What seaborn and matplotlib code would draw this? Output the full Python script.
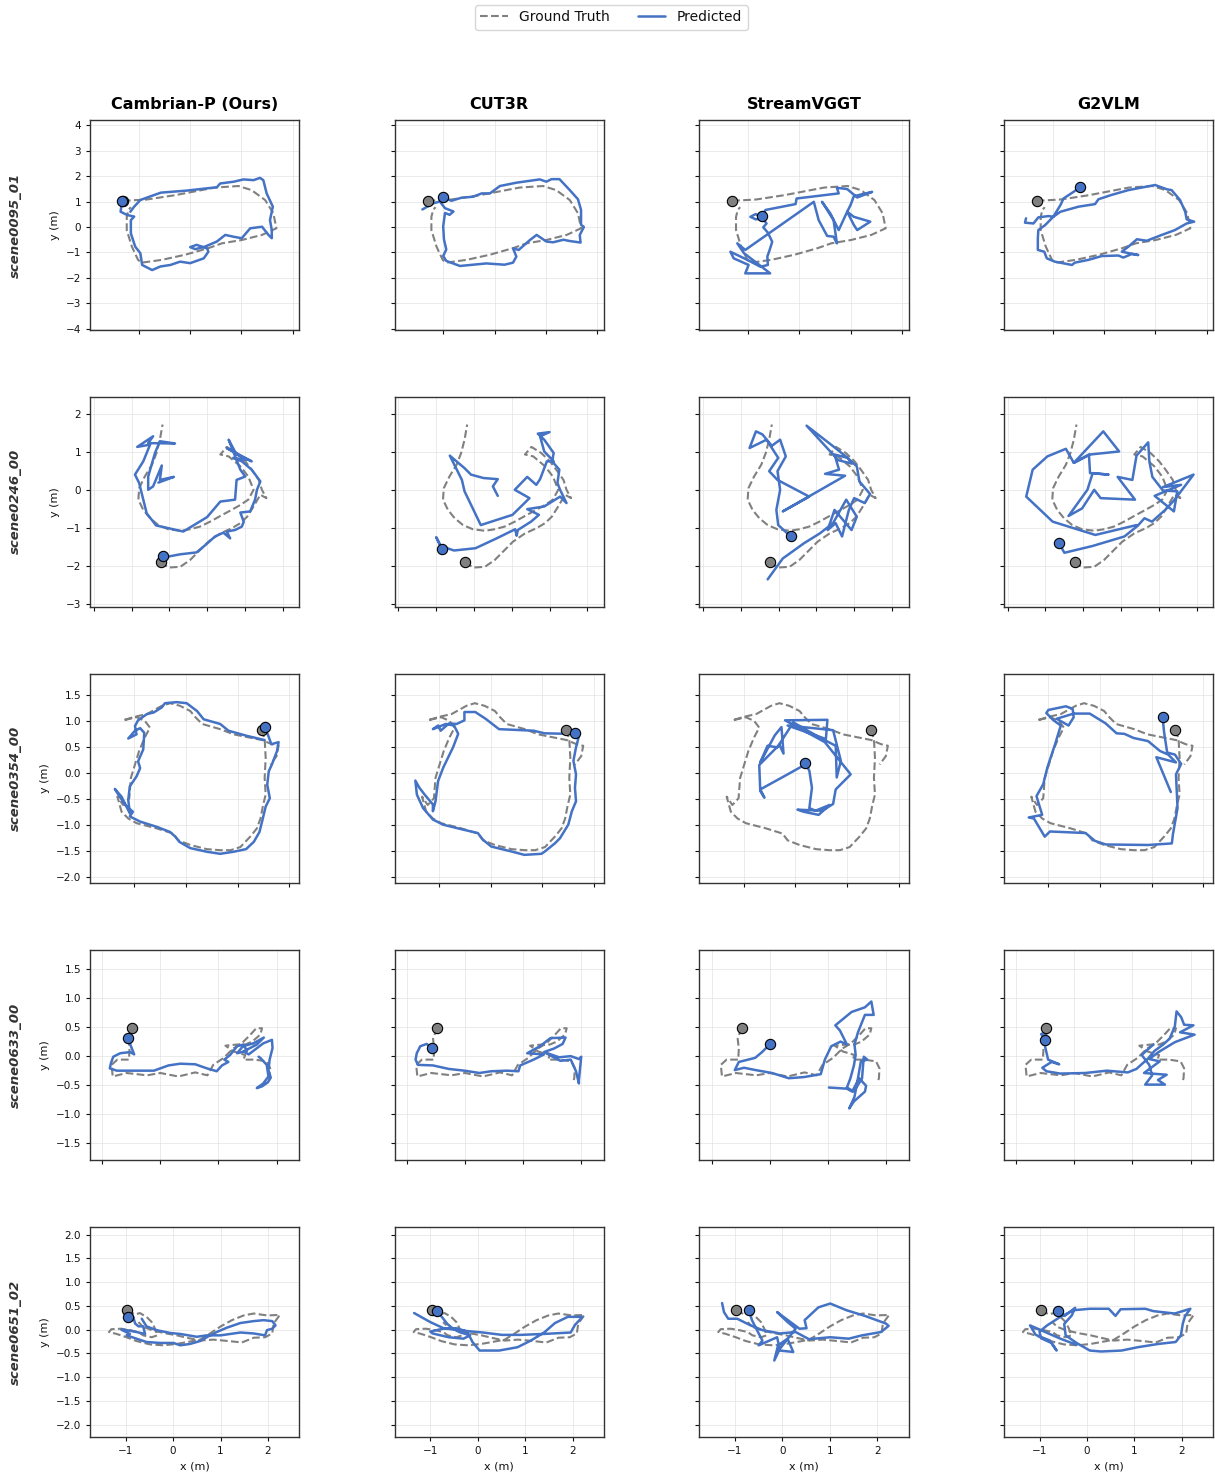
import matplotlib
matplotlib.use("Agg")
import matplotlib.pyplot as plt
import pandas as pd
import seaborn as sns
from matplotlib.lines import Line2D
from matplotlib.ticker import MultipleLocator

# ---------------------------------------------------------------- labels
methods = ["Cambrian-P (Ours)", "CUT3R", "StreamVGGT", "G2VLM"]
scenes = ["scene0095_01", "scene0246_00", "scene0354_00", "scene0633_00", "scene0651_02"]

# ---------------------------------------------------------------- scene0095_01
gt_0095_01 = [(-2.62, 1.03), (-1.69, 1.08), (-0.59, 1.25), (0.97, 1.55), (1.88, 1.61), (2.39, 1.45),
              (2.92, 1.06), (3.24, 0.54), (3.36, -0.05), (2.80, -0.31), (2.01, -0.51), (1.24, -0.64),
              (0.71, -0.83), (-0.20, -1.09), (-1.10, -1.29), (-1.89, -1.40), (-2.03, -1.29),
              (-2.27, -0.77), (-2.47, -0.12), (-2.47, 0.40), (-2.40, 0.67), (-2.31, 0.78)]
cambrian_0095_01 = [(-2.65, 1.02), (-2.71, 0.60), (-2.45, 0.47), (-2.18, 0.41), (-2.31, 0.27), (-2.31, -0.25),
                    (-2.14, -0.77), (-1.94, -1.03), (-1.87, -1.49), (-1.48, -1.69), (-1.16, -1.55),
                    (-0.77, -1.49), (-0.39, -1.36), (0.00, -1.42), (0.53, -1.23), (0.71, -0.97),
                    (0.66, -0.84), (0.25, -0.70), (0.00, -0.79), (0.20, -0.87), (0.58, -0.77),
                    (1.04, -0.57), (1.37, -0.31), (1.68, -0.38), (2.01, -0.44), (2.34, -0.05),
                    (2.80, 0.01), (3.05, -0.31), (3.18, -0.44), (3.18, -0.12), (3.11, 0.27),
                    (3.22, 0.80), (2.98, 1.32), (2.85, 1.84), (2.72, 1.93), (2.47, 1.84), (2.08, 1.87),
                    (1.70, 1.78), (1.17, 1.71), (1.04, 1.56), (0.66, 1.52), (-0.13, 1.43),
                    (-1.14, 1.35), (-1.67, 1.16), (-1.94, 1.06), (-2.18, 0.80), (-2.33, 0.60)]
cut3r_0095_01 = [(-2.01, 1.16), (-1.69, 1.03), (-1.30, 1.15), (-0.84, 1.19), (-0.51, 1.32), (-0.19, 1.32),
                 (0.20, 1.61), (0.84, 1.74), (1.75, 1.87), (2.01, 1.78), (2.21, 1.88), (2.52, 1.88),
                 (2.92, 1.45), (3.24, 1.09), (3.36, 0.67), (3.36, 0.09), (3.47, 0.00), (3.31, -0.31),
                 (3.34, -0.61), (2.92, -0.55), (2.67, -0.50), (2.27, -0.60), (2.01, -0.57),
                 (1.63, -0.31), (1.37, -0.51), (0.93, -0.90), (0.71, -0.84), (0.84, -1.16),
                 (0.71, -1.40), (0.38, -1.48), (-0.33, -1.43), (-1.36, -1.53), (-1.89, -1.33),
                 (-2.01, -1.14), (-1.89, -0.88), (-1.98, -0.49), (-2.01, 0.03), (-1.94, 0.55),
                 (-1.76, 0.48), (-1.61, 0.61), (-1.94, 0.74), (-2.14, 1.00), (-2.40, 0.93), (-2.82, 0.69)]
streamvggt_0095_01 = [(-1.45, 0.44), (-1.32, 0.67), (-0.15, 0.90), (-0.11, 1.12), (1.53, 1.32), (1.46, 1.54),
                      (1.86, 1.49), (2.25, 1.16), (2.83, 1.38), (2.12, 1.21), (1.99, 0.86), (1.86, 0.60),
                      (2.12, 0.40), (2.76, 0.21), (2.25, -0.12), (2.12, 0.08), (1.86, 0.60), (1.53, -0.12),
                      (1.20, 0.54), (0.88, 0.99), (1.33, 0.27), (1.46, -0.64), (1.33, -0.38), (1.08, -0.35),
                      (0.75, 0.27), (0.56, 0.99), (-2.11, -0.90), (-2.42, -0.64), (-2.16, -1.03),
                      (-1.65, -1.42), (-1.14, -1.82), (-2.11, -1.82), (-1.98, -1.49), (-2.56, -1.23),
                      (-2.69, -0.97), (-2.03, -1.29), (-1.52, -1.56), (-1.23, -1.49), (-1.25, -1.16),
                      (-1.16, -0.90), (-1.06, -0.58), (-1.23, -0.22), (-1.41, -0.01), (-1.28, 0.14),
                      (-1.45, 0.34), (-1.70, 0.30), (-1.91, 0.40), (-1.70, 0.51), (-1.58, 0.43)]
g2vlm_0095_01 = [(-0.94, 1.56), (-1.19, 1.38), (-1.58, 1.12), (-1.70, 0.86), (-1.98, 0.40), (-2.29, 0.08),
                 (-2.56, -0.12), (-2.58, -0.44), (-2.58, -0.90), (-2.33, -0.97), (-2.23, -1.23),
                 (-1.92, -1.36), (-1.25, -1.49), (-1.14, -1.40), (-0.61, -1.29), (-0.09, -1.14),
                 (0.56, -1.12), (0.75, -1.20), (1.08, -1.06), (1.33, -1.10), (0.69, -0.97),
                 (0.95, -0.77), (1.28, -0.48), (1.66, -0.54), (2.25, -0.31), (2.76, -0.12),
                 (3.22, 0.14), (3.51, 0.21), (3.22, 0.30), (3.16, 0.60), (2.96, 1.06), (2.63, 1.45),
                 (2.45, 1.48), (1.99, 1.65), (0.95, 1.45), (0.29, 1.26), (-0.22, 1.09), (-0.35, 0.90),
                 (-0.99, 0.80), (-1.70, 0.60), (-1.98, 0.40), (-2.16, 0.43), (-2.56, 0.38),
                 (-2.75, 0.14), (-3.08, 0.17), (-3.04, 0.34)]

# ---------------------------------------------------------------- scene0246_00
gt_0246_00 = [(-0.23, -1.90), (-0.03, -2.05), (0.29, -2.03), (0.55, -1.85), (0.77, -1.63), (1.03, -1.37),
              (1.35, -1.15), (1.66, -1.01), (1.88, -0.88), (2.06, -0.71), (2.23, -0.44), (2.41, -0.13),
              (2.57, -0.22), (2.45, 0.00), (2.37, 0.26), (2.18, 0.53), (2.01, 0.75), (1.78, 0.97),
              (1.52, 1.13), (1.35, 0.93), (1.57, 0.88), (1.88, 0.62), (2.09, 0.35), (2.23, 0.00),
              (2.09, -0.26), (1.88, -0.40), (1.61, -0.55), (1.35, -0.69), (1.08, -0.84), (0.81, -0.97),
              (0.55, -1.04), (0.29, -1.08), (-0.03, -1.04), (-0.29, -0.93), (-0.51, -0.75),
              (-0.69, -0.53), (-0.82, -0.26), (-0.80, 0.04), (-0.65, 0.35), (-0.46, 0.66),
              (-0.34, 0.97), (-0.25, 1.32), (-0.18, 1.72)]
cambrian_0246_00 = [(-0.18, -1.74), (-0.03, -1.76), (0.29, -1.70), (0.72, -1.65), (0.95, -1.46), (1.21, -1.23),
                    (1.43, -1.13), (1.61, -1.28), (1.52, -1.10), (1.74, -1.06), (1.92, -0.97), (1.97, -0.84),
                    (1.88, -0.60), (2.14, -0.57), (2.27, -0.26), (2.32, 0.00), (2.41, 0.22), (2.18, 0.53),
                    (1.92, 0.75), (1.69, 0.84), (2.06, 0.79), (1.52, 1.10), (2.18, 0.75), (1.78, 0.93),
                    (1.57, 1.32), (1.88, 0.53), (2.01, 0.35), (1.78, 0.26), (1.74, -0.26), (1.35, -0.31),
                    (1.00, -0.72), (0.37, -1.10), (-0.35, -0.94), (-0.60, -0.62), (-0.80, 0.18),
                    (-0.91, 0.40), (-0.69, 0.75), (-0.51, 1.19), (-0.85, 1.13), (-0.43, 1.41),
                    (-0.56, 1.23), (0.15, 1.22), (-0.25, 1.28), (-0.38, 0.97), (-0.56, 0.35),
                    (-0.56, 0.00), (-0.43, 0.09), (-0.20, 0.64), (-0.25, 0.26), (0.12, 0.34), (-0.29, 0.19)]
cut3r_0246_00 = [(-0.85, -1.56), (-1.00, -1.25), (-0.88, -1.48), (-0.53, -1.60), (0.04, -1.54), (0.60, -1.28),
                 (1.09, -1.04), (1.13, -1.21), (1.16, -1.06), (1.51, -0.84), (1.72, -0.66), (1.41, -0.51),
                 (1.86, -0.44), (2.28, -0.18), (2.45, -0.35), (2.28, 0.00), (2.21, 0.18), (2.26, 0.53),
                 (2.07, 0.75), (2.11, 0.97), (1.86, 1.32), (1.69, 1.48), (2.00, 1.52), (1.75, 1.41),
                 (1.86, 1.01), (2.11, 0.75), (1.93, 0.75), (1.75, 0.28), (1.65, 0.13), (1.41, 0.34),
                 (1.08, 0.00), (1.47, -0.22), (1.02, -0.66), (0.18, -0.93), (-0.25, -0.04),
                 (-0.32, 0.26), (-0.64, 0.90), (-0.25, 0.57), (-0.08, 0.40), (0.25, 0.31),
                 (0.63, 0.28), (0.50, 0.09), (0.63, -0.16)]
streamvggt_0246_00 = [(0.32, -1.23), (-0.01, -0.93), (-0.06, -0.53), (0.04, 0.00), (-0.03, 0.49), (0.19, 0.88),
                      (0.04, 1.32), (-0.18, 1.16), (-0.43, 1.46), (-0.60, 1.54), (-0.77, 1.10), (-0.32, 1.32),
                      (-0.01, 0.84), (-0.25, 0.49), (-0.03, 0.26), (0.81, -0.18), (0.11, -0.57), (1.76, 0.37),
                      (1.23, 0.42), (1.60, 0.53), (1.48, 0.93), (1.83, 0.84), (1.94, 0.69), (1.58, 0.78),
                      (0.74, 1.69), (1.44, 1.15), (1.78, 0.88), (2.07, 0.62), (2.14, 0.22), (2.42, -0.11),
                      (2.28, -0.35), (2.00, -0.22), (1.86, -0.53), (1.68, -1.23), (1.51, -0.88),
                      (1.30, -1.06), (1.48, -0.53), (1.93, -1.06), (2.07, -0.71), (1.79, -0.26),
                      (1.44, -0.88), (1.09, -1.15), (0.67, -1.41), (0.11, -1.81), (-0.29, -2.36)]
g2vlm_0246_00 = [(-0.64, -1.41), (-0.50, -1.66), (0.25, -1.48), (1.09, -1.23), (1.44, -0.95), (1.62, -0.75),
                 (1.82, -0.84), (2.17, -0.53), (2.42, -0.26), (2.92, 0.40), (2.11, 0.07), (2.59, 0.13),
                 (1.89, -0.16), (2.40, -0.57), (2.49, -0.04), (2.11, -0.02), (1.83, 0.34), (1.75, 0.75),
                 (1.72, 1.25), (1.41, 0.90), (1.30, 0.26), (0.91, 0.34), (1.37, -0.26), (0.46, -0.22),
                 (0.29, 0.00), (-0.03, -0.49), (-0.39, -0.69), (0.11, 0.00), (0.25, 0.44), (0.67, 0.40),
                 (0.18, 0.44), (0.15, 0.93), (-0.25, 0.71), (0.53, 1.54), (0.95, 1.01), (0.18, 0.93),
                 (-0.25, 0.71), (-0.46, 1.08), (-0.95, 0.88), (-1.34, 0.53), (-1.51, -0.18),
                 (-0.81, -0.84), (0.32, -1.19), (1.41, -0.93)]

# ---------------------------------------------------------------- scene0354_00
gt_0354_00 = [(1.46, 0.84), (1.52, 0.66), (1.54, 0.30), (1.52, -0.09), (1.54, -0.41), (1.49, -0.61),
              (1.44, -0.87), (1.37, -1.06), (1.24, -1.22), (1.05, -1.42), (0.86, -1.48), (0.66, -1.48),
              (0.40, -1.46), (0.08, -1.38), (-0.15, -1.29), (-0.25, -1.16), (-0.57, -1.06),
              (-0.96, -0.96), (-1.12, -0.87), (-1.25, -0.74), (-1.33, -0.45), (-1.22, -0.61),
              (-1.10, -0.48), (-1.07, -0.09), (-0.99, 0.17), (-0.91, 0.43), (-0.80, 0.69),
              (-0.70, 0.88), (-0.80, 1.01), (-0.96, 1.08), (-1.22, 1.02), (-0.99, 1.09),
              (-0.76, 1.14), (-0.47, 1.30), (-0.31, 1.35), (-0.12, 1.30), (0.08, 1.20), (0.18, 1.08),
              (0.31, 0.95), (0.66, 0.85), (0.92, 0.75), (1.47, 0.64), (1.66, 0.56), (1.79, 0.53),
              (1.75, 0.33), (1.63, 0.17)]
cambrian_0354_00 = [(1.52, 0.89), (1.58, 0.75), (1.65, 0.56), (1.79, 0.60), (1.76, 0.43), (1.66, 0.17),
                    (1.60, 0.04), (1.57, -0.22), (1.62, -0.48), (1.54, -0.64), (1.47, -0.93), (1.42, -1.13),
                    (1.31, -1.32), (1.16, -1.46), (0.92, -1.51), (0.66, -1.55), (0.40, -1.51),
                    (0.08, -1.44), (-0.13, -1.32), (-0.21, -1.22), (-0.31, -1.13), (-0.57, -1.03),
                    (-0.89, -0.93), (-1.09, -0.83), (-1.03, -0.74), (-1.18, -0.61), (-1.35, -0.35),
                    (-1.38, -0.30), (-1.25, -0.45), (-1.09, -0.77), (-1.12, -0.51), (-1.09, -0.25),
                    (-0.96, -0.06), (-0.89, 0.10), (-0.93, 0.23), (-0.83, 0.46), (-0.81, 0.78),
                    (-0.89, 0.87), (-0.99, 0.82), (-1.12, 0.67), (-0.96, 0.75), (-0.99, 0.91),
                    (-0.93, 1.02), (-0.76, 1.14), (-0.63, 1.17), (-0.47, 1.27), (-0.41, 1.35),
                    (-0.18, 1.37), (0.01, 1.35), (0.21, 1.20), (0.34, 1.04), (0.66, 0.95), (0.82, 0.82),
                    (1.18, 0.72), (1.52, 0.64)]
cut3r_0354_00 = [(1.63, 0.77), (1.70, 0.69), (1.65, 0.50), (1.60, 0.24), (1.65, -0.02), (1.63, -0.28),
                 (1.65, -0.54), (1.57, -0.73), (1.50, -0.99), (1.34, -1.25), (1.24, -1.35), (1.04, -1.51),
                 (0.98, -1.55), (0.65, -1.57), (0.42, -1.51), (0.01, -1.41), (-0.15, -1.28),
                 (-0.25, -1.15), (-0.51, -1.09), (-0.92, -0.99), (-1.12, -0.89), (-1.31, -0.67),
                 (-1.43, -0.41), (-1.46, -0.14), (-1.38, -0.28), (-1.28, -0.41), (-1.12, -0.60),
                 (-1.12, -0.73), (-1.07, -0.54), (-1.02, -0.15), (-0.92, 0.11), (-0.73, 0.50),
                 (-0.63, 0.76), (-0.71, 0.92), (-0.87, 0.95), (-1.02, 0.89), (-1.12, 0.85),
                 (-1.02, 0.92), (-0.97, 0.82), (-0.81, 0.96), (-0.66, 0.95), (-0.51, 1.02),
                 (-0.51, 1.18), (-0.30, 1.18), (-0.10, 1.05), (0.16, 0.85), (0.62, 0.83), (0.83, 0.82),
                 (1.04, 0.77), (1.50, 0.76)]
streamvggt_0354_00 = [(0.19, 0.19), (0.27, 0.05), (0.32, -0.28), (0.27, -0.67), (0.39, -0.72), (0.66, -0.61),
                      (0.45, -0.80), (0.16, -0.74), (0.04, -0.70), (0.52, -0.72), (0.73, -0.59),
                      (0.78, -0.31), (1.07, -0.02), (0.57, 0.60), (-0.20, 1.02), (0.62, 1.03), (0.59, 0.66),
                      (-0.15, 0.92), (0.73, 0.83), (0.88, 0.24), (0.80, -0.08), (0.78, 0.53), (0.47, 0.69),
                      (-0.04, 0.98), (-0.35, 0.50), (-0.54, 0.53), (-0.68, 0.21), (-0.40, 0.73),
                      (-0.27, 0.89), (-0.23, 0.38), (-0.31, 0.55), (-0.70, 0.16), (-0.68, -0.34),
                      (-0.60, -0.47), (-0.68, -0.31), (-0.15, -0.02), (0.21, 0.18)]
g2vlm_0354_00 = [(1.21, 1.09), (1.24, 0.79), (1.30, 0.40), (1.45, 0.36), (1.57, 0.18), (1.47, -0.02),
                 (1.50, -0.67), (1.41, -1.18), (1.39, -1.35), (0.93, -1.38), (0.11, -1.37), (-0.10, -1.30),
                 (-0.28, -1.15), (-0.97, -1.12), (-1.07, -1.22), (-1.28, -0.87), (-1.38, -0.85),
                 (-1.12, -0.80), (-1.23, -0.44), (-1.10, -0.21), (-1.02, 0.11), (-0.87, 0.56),
                 (-0.76, 0.92), (-0.90, 1.02), (-1.04, 1.16), (-1.00, 1.22), (-0.66, 1.29),
                 (-0.53, 1.24), (-0.51, 1.08), (-0.61, 0.92), (-0.84, 1.05), (-0.51, 1.15),
                 (-0.20, 1.15), (0.11, 0.96), (0.32, 0.77), (0.47, 0.76), (0.65, 0.68), (0.93, 0.62),
                 (1.16, 0.43), (1.32, 0.36), (1.47, 0.21), (1.09, 0.31), (1.37, -0.36)]

# ---------------------------------------------------------------- scene0633_00
gt_0633_00 = [(-0.48, 0.49), (-0.55, 0.30), (-0.53, 0.13), (-0.54, -0.06), (-0.74, -0.06), (-0.84, -0.15),
              (-0.82, -0.35), (-0.58, -0.29), (-0.23, -0.33), (0.00, -0.29), (0.31, -0.35), (0.60, -0.28),
              (0.81, -0.33), (0.91, -0.15), (1.09, -0.03), (1.25, 0.13), (1.40, 0.22), (1.55, 0.37),
              (1.65, 0.48), (1.75, 0.48), (1.72, 0.37), (1.58, 0.25), (1.46, 0.20), (1.32, 0.20),
              (1.12, 0.18), (1.26, 0.08), (1.46, 0.02), (1.43, -0.06), (1.63, -0.06), (1.83, -0.09),
              (1.89, -0.21), (1.88, -0.38), (1.86, -0.45)]
cambrian_0633_00 = [(-0.55, 0.31), (-0.51, 0.18), (-0.45, 0.03), (-0.52, 0.07), (-0.69, 0.05), (-0.81, -0.01),
                    (-0.85, -0.12), (-0.87, -0.21), (-0.75, -0.25), (-0.52, -0.25), (-0.11, -0.25),
                    (0.00, -0.21), (0.14, -0.16), (0.34, -0.13), (0.60, -0.14), (0.80, -0.21),
                    (0.97, -0.26), (1.06, -0.16), (1.17, -0.10), (1.10, -0.06), (1.20, 0.02),
                    (1.32, 0.17), (1.43, 0.20), (1.49, 0.09), (1.32, 0.05), (1.42, 0.17), (1.60, 0.22),
                    (1.78, 0.32), (1.66, 0.20), (1.43, 0.08), (1.52, 0.03), (1.77, 0.22), (1.92, 0.28),
                    (1.93, 0.14), (1.88, -0.06), (1.86, -0.24), (1.90, -0.37), (1.85, -0.45),
                    (1.75, -0.52), (1.66, -0.55), (1.77, -0.47), (1.86, -0.35), (1.83, -0.15),
                    (1.72, -0.03), (1.69, -0.01)]
cut3r_0633_00 = [(-0.57, 0.14), (-0.66, 0.21), (-0.77, 0.17), (-0.83, 0.05), (-0.85, -0.06), (-0.81, -0.15),
                 (-0.55, -0.16), (-0.28, -0.22), (-0.01, -0.25), (0.25, -0.29), (0.45, -0.26),
                 (0.72, -0.25), (0.92, -0.26), (0.95, -0.16), (1.18, -0.06), (1.36, 0.03), (1.07, 0.05),
                 (1.29, 0.17), (1.47, 0.31), (1.73, 0.32), (1.68, 0.21), (1.53, 0.13), (1.36, 0.07),
                 (1.62, -0.02), (1.82, 0.00), (1.96, -0.05), (2.00, -0.01), (1.98, -0.21), (1.96, -0.41),
                 (1.96, -0.47), (1.91, -0.26), (1.82, -0.06), (1.64, -0.08), (1.45, 0.02)]
streamvggt_0633_00 = [(0.01, 0.21), (-0.13, 0.07), (-0.25, -0.03), (-0.53, -0.10), (-0.60, -0.24), (-0.44, -0.20),
                      (-0.24, -0.24), (0.04, -0.29), (0.33, -0.38), (0.59, -0.36), (0.88, -0.31),
                      (0.95, -0.06), (1.06, 0.17), (1.22, 0.25), (1.33, 0.20), (1.21, 0.44), (1.13, 0.53),
                      (1.41, 0.76), (1.64, 0.84), (1.75, 0.94), (1.79, 0.71), (1.64, 0.71), (1.52, 0.41),
                      (1.46, 0.20), (1.48, 0.02), (1.45, -0.16), (1.39, -0.38), (1.33, -0.54),
                      (1.45, -0.61), (1.59, -0.38), (1.62, -0.01), (1.68, -0.06), (1.57, -0.09),
                      (1.52, -0.38), (1.46, -0.70), (1.37, -0.90), (1.45, -0.78), (1.64, -0.61),
                      (1.66, -0.51), (1.54, -0.38), (1.42, -0.61), (1.33, -0.56), (1.02, -0.54)]
g2vlm_0633_00 = [(-0.50, 0.28), (-0.57, 0.38), (-0.48, 0.41), (-0.51, 0.20), (-0.45, -0.06), (-0.26, -0.14),
                 (-0.39, -0.10), (-0.55, -0.20), (-0.48, -0.26), (-0.24, -0.30), (0.19, -0.29),
                 (0.56, -0.25), (0.92, -0.28), (1.07, -0.22), (1.27, -0.04), (1.38, 0.09), (1.53, 0.20),
                 (1.64, 0.30), (1.73, 0.51), (1.76, 0.77), (1.84, 0.67), (1.89, 0.54), (2.05, 0.53),
                 (1.82, 0.41), (2.07, 0.37), (1.73, 0.24), (1.45, 0.07), (1.29, -0.05), (1.47, -0.09),
                 (1.20, -0.29), (1.59, -0.32), (1.44, -0.41), (1.56, -0.49), (1.22, -0.49),
                 (1.34, -0.33), (1.29, -0.15), (1.16, 0.02), (1.36, 0.20)]

# ---------------------------------------------------------------- scene0651_02
gt_0651_02 = [(-0.97, 0.41), (-0.80, 0.32), (-0.70, 0.35), (-0.56, 0.27), (-0.45, 0.16), (-0.38, 0.02),
              (-0.33, -0.12), (-0.45, -0.16), (-0.63, -0.12), (-0.73, -0.05), (-0.91, -0.01),
              (-1.09, 0.02), (-1.30, 0.01), (-1.35, -0.05), (-1.19, -0.09), (-0.98, -0.16),
              (-0.77, -0.24), (-0.49, -0.31), (-0.20, -0.33), (0.08, -0.30), (0.36, -0.25),
              (0.57, -0.21), (0.78, -0.08), (0.99, 0.06), (1.24, 0.20), (1.49, 0.30), (1.70, 0.34),
              (1.98, 0.30), (2.25, 0.31), (2.12, 0.13), (2.09, -0.08), (1.94, -0.16), (1.70, -0.17),
              (1.45, -0.27), (1.17, -0.24), (0.85, -0.21), (0.57, -0.23), (0.29, -0.17), (0.08, -0.12),
              (-0.20, -0.07), (-0.45, -0.01), (-0.63, 0.06), (-0.73, 0.16)]
cambrian_0651_02 = [(-0.96, 0.27), (-0.87, 0.20), (-0.84, 0.27), (-0.80, 0.13), (-0.73, 0.07), (-0.63, 0.07),
                    (-0.59, -0.09), (-0.77, -0.05), (-0.98, -0.01), (-1.09, 0.00), (-0.91, -0.09),
                    (-0.98, -0.12), (-0.77, -0.19), (-0.56, -0.26), (-0.27, -0.28), (0.01, -0.28),
                    (0.15, -0.33), (0.36, -0.30), (0.57, -0.24), (0.78, -0.12), (0.92, -0.05), (1.13, 0.04),
                    (1.42, 0.14), (1.70, 0.18), (1.91, 0.20), (2.09, 0.18), (2.16, 0.09), (2.09, 0.02),
                    (1.98, -0.01), (1.94, -0.12), (1.70, -0.08), (1.42, -0.06), (1.00, -0.12),
                    (0.71, -0.12), (0.50, -0.15), (0.15, -0.09), (-0.06, -0.07), (-0.35, -0.01),
                    (-0.56, 0.07), (-0.66, 0.23)]
cut3r_0651_02 = [(-0.86, 0.39), (-0.78, 0.30), (-0.64, 0.12), (-0.52, 0.02), (-0.39, -0.05), (-0.16, -0.12),
                 (-0.30, -0.19), (-0.61, -0.16), (-0.95, -0.08), (-1.00, -0.04), (-0.73, 0.02),
                 (-0.45, 0.03), (-0.22, -0.04), (-0.11, -0.26), (0.04, -0.44), (0.45, -0.44),
                 (0.84, -0.37), (1.12, -0.23), (1.40, -0.06), (1.63, 0.14), (1.90, 0.27), (2.21, 0.27),
                 (2.05, 0.10), (1.96, -0.06), (1.40, -0.09), (0.90, -0.11), (0.51, -0.11), (0.11, -0.06),
                 (-0.33, -0.02), (-0.72, 0.03), (-1.00, 0.16), (-1.34, 0.35)]
streamvggt_0651_02 = [(-0.71, 0.42), (-0.64, 0.20), (-0.55, 0.02), (-0.42, -0.23), (-0.50, -0.33), (-0.11, -0.16),
                      (-0.05, -0.44), (0.23, -0.47), (0.11, -0.19), (-0.09, -0.33), (-0.17, -0.65),
                      (-0.05, -0.40), (0.17, -0.12), (0.28, 0.02), (0.11, 0.16), (-0.11, 0.37), (0.36, 0.02),
                      (0.51, 0.03), (0.47, 0.20), (0.76, 0.47), (1.01, 0.55), (1.35, 0.41), (1.74, 0.29),
                      (2.18, 0.13), (2.24, 0.08), (2.08, -0.05), (1.68, -0.12), (1.40, -0.19),
                      (1.01, -0.16), (0.56, -0.20), (0.28, -0.05), (-0.05, -0.08), (-0.42, -0.01),
                      (-0.67, 0.09), (-0.95, 0.23), (-1.14, 0.23), (-1.23, 0.37), (-1.27, 0.56)]
g2vlm_0651_02 = [(-0.61, 0.39), (-0.47, 0.29), (-0.25, 0.46), (-0.32, 0.30), (-0.48, 0.12), (-0.45, -0.12),
                 (-0.22, -0.28), (0.06, -0.44), (0.30, -0.46), (0.73, -0.44), (1.07, -0.37), (1.51, -0.30),
                 (1.87, -0.26), (1.98, -0.12), (2.02, 0.13), (2.07, 0.29), (2.18, 0.44), (1.85, 0.34),
                 (1.40, 0.39), (1.23, 0.44), (0.71, 0.43), (0.60, 0.29), (0.46, 0.44), (0.06, 0.44),
                 (-0.28, 0.41), (-0.56, 0.27), (-0.84, 0.09), (-1.00, -0.04), (-0.97, -0.18),
                 (-0.75, -0.28), (-0.64, -0.44), (-0.78, -0.23), (-1.08, -0.11), (-1.20, 0.09),
                 (-0.95, -0.02), (-0.56, -0.19), (-0.22, -0.32)]

ground_truth = [gt_0095_01, gt_0246_00, gt_0354_00, gt_0633_00, gt_0651_02]
predictions = [
    [cambrian_0095_01, cut3r_0095_01, streamvggt_0095_01, g2vlm_0095_01],
    [cambrian_0246_00, cut3r_0246_00, streamvggt_0246_00, g2vlm_0246_00],
    [cambrian_0354_00, cut3r_0354_00, streamvggt_0354_00, g2vlm_0354_00],
    [cambrian_0633_00, cut3r_0633_00, streamvggt_0633_00, g2vlm_0633_00],
    [cambrian_0651_02, cut3r_0651_02, streamvggt_0651_02, g2vlm_0651_02],
]

# per-scene view window (equal metric scale inside each row)
row_xlim = [(-3.90, 4.25), (-2.10, 3.44), (-1.86, 2.19), (-1.21, 2.39), (-1.75, 2.66)]
row_ylim = [(-4.04, 4.20), (-3.08, 2.45), (-2.12, 1.92), (-1.79, 1.82), (-2.26, 2.16)]
row_xstep = [2, 1, 1, 1, 1]
row_ystep = [1, 1, 0.5, 0.5, 0.5]

GT_COLOR = "#808080"
PRED_COLOR = "#4472c4"
INK = "#111111"

sns.set_theme(style="ticks")
plt.rcParams["font.family"] = ["DejaVu Sans"]
plt.rcParams["axes.linewidth"] = 1.0
plt.rcParams["text.color"] = INK
plt.rcParams["axes.labelcolor"] = INK

fig, axes = plt.subplots(5, 4, figsize=(12.15, 14.75), dpi=100)
fig.subplots_adjust(left=0.0741, right=0.9985, top=0.9186, bottom=0.0258, wspace=0.456, hspace=0.319)


def to_frame(points):
    return pd.DataFrame(points, columns=["x", "y"])


for r in range(5):
    gt = to_frame(ground_truth[r])
    for c in range(4):
        ax = axes[r, c]
        pred = to_frame(predictions[r][c])
        sns.lineplot(data=gt, x="x", y="y", sort=False, estimator=None, ax=ax,
                     color=GT_COLOR, linestyle="--", linewidth=1.5, zorder=2)
        sns.lineplot(data=pred, x="x", y="y", sort=False, estimator=None, ax=ax,
                     color=PRED_COLOR, linewidth=1.8, zorder=3)
        sns.scatterplot(x=gt["x"].iloc[:1], y=gt["y"].iloc[:1], ax=ax, s=55, color=GT_COLOR,
                        edgecolor="black", linewidth=0.8, zorder=4)
        sns.scatterplot(x=pred["x"].iloc[:1], y=pred["y"].iloc[:1], ax=ax, s=55, color=PRED_COLOR,
                        edgecolor="black", linewidth=0.8, zorder=5)

        ax.set_xlim(*row_xlim[r])
        ax.set_ylim(*row_ylim[r])
        ax.xaxis.set_major_locator(MultipleLocator(row_xstep[r]))
        ax.yaxis.set_major_locator(MultipleLocator(row_ystep[r]))
        ax.grid(True, color="#dddddd", linewidth=0.6, alpha=0.7)
        ax.tick_params(axis="both", labelsize=7.5, length=3, width=0.8, colors=INK)
        for side in ("top", "right", "left", "bottom"):
            ax.spines[side].set_visible(True)
            ax.spines[side].set_color("#333333")

        if r == 4:
            ax.set_xlabel("x (m)", fontsize=8)
        else:
            ax.set_xlabel("")
            ax.tick_params(axis="x", labelbottom=False)
        if c == 0:
            ax.set_ylabel("y (m)", fontsize=8)
        else:
            ax.set_ylabel("")
            ax.tick_params(axis="y", labelleft=False)
        if r == 0:
            ax.set_title(methods[c], fontsize=11.5, fontweight="bold", pad=8, color="black")

    pos = axes[r, 0].get_position()
    fig.text(0.0125, (pos.y0 + pos.y1) / 2, scenes[r], rotation=90, ha="center", va="center",
             fontsize=9.5, fontweight="bold", fontstyle="italic", color="#333333")

handles = [Line2D([0], [0], color=GT_COLOR, linestyle="--", linewidth=1.5, label="Ground Truth"),
           Line2D([0], [0], color=PRED_COLOR, linewidth=1.8, label="Predicted")]
fig.legend(handles=handles, loc="upper center", bbox_to_anchor=(0.503, 1.0015), ncol=2,
           fontsize=10, frameon=True, fancybox=True, edgecolor="#cccccc", labelcolor=INK)

fig.savefig("out.png", dpi=100)
